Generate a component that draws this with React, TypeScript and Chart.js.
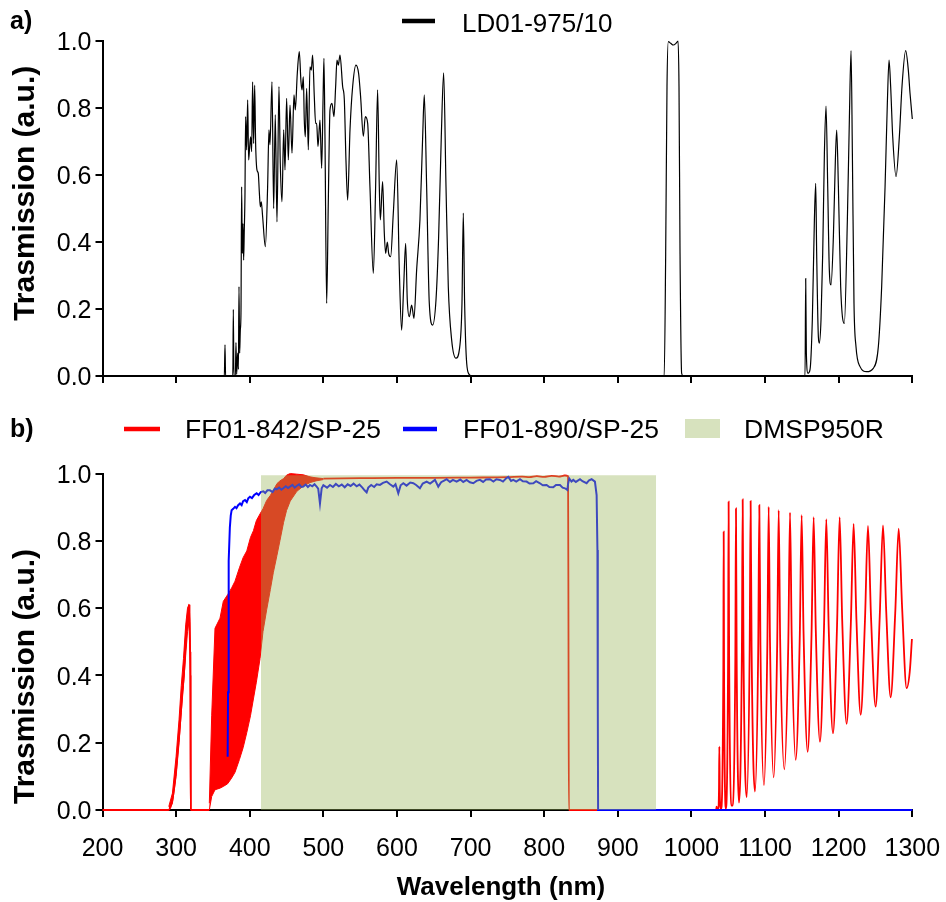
import { useEffect, useRef } from 'react';
import { Chart, registerables } from 'chart.js';

Chart.register(...registerables);

const FONT = '"Liberation Sans", Arial, Helvetica, sans-serif';

// ---------- axis settings ----------
const X_MIN = 200;
const X_MAX = 1300;
const X_STEP = 100;
const Y_MIN = 0;
const Y_MAX = 1;
const Y_STEP = 0.2;

// ---------- text ----------
const panelLabels = ['a)', 'b)'];
const yTitle = 'Trasmission (a.u.)';
const xTitle = 'Wavelength (nm)';
const seriesNames = ['LD01-975/10', 'FF01-842/SP-25', 'FF01-890/SP-25', 'DMSP950R'];

// ---------- panel a: LD01-975/10 (wavelength nm, transmission) ----------
const ld01: [number, number][] = [
  [200, 0], [365.5, 0], [366.4, 0.093], [367.2, 0], [377, 0], [377.7, 0.199], [378.5, 0],
  [380.5, 0], [381.3, 0.1], [382.2, 0.005], [383.6, 0.068], [384.6, 0.02], [385.4, 0.267],
  [386.3, 0.068], [387.2, 0.137], [388.1, 0.187], [389.0, 0.565], [389.9, 0.366], [390.8, 0.455],
  [391.7, 0.346], [392.6, 0.436], [393.5, 0.536], [394.4, 0.774], [395.8, 0.675], [397.2, 0.824],
  [398.5, 0.645], [399.9, 0.685], [401.2, 0.714], [402.6, 0.67], [403.9, 0.878], [405.3, 0.694],
  [406.7, 0.868], [408.0, 0.694], [409.8, 0.615], [411.6, 0.605], [413.0, 0.55], [414.4, 0.505],
  [415.7, 0.52], [417.5, 0.476], [421.2, 0.386], [424.3, 0.565], [426.1, 0.735], [427.5, 0.69],
  [430.2, 0.878], [432.5, 0.5], [434.7, 0.78], [437.0, 0.46], [439.7, 0.864], [441.5, 0.635],
  [443.8, 0.52], [446.1, 0.735], [447.9, 0.615], [450.1, 0.829], [452.4, 0.645], [454.7, 0.809],
  [457.4, 0.665], [460.1, 0.839], [461.9, 0.794], [464.6, 0.903], [467.3, 0.968], [469.6, 0.878],
  [471.0, 0.854], [472.8, 0.893], [474.1, 0.764], [475.5, 0.714], [477.3, 0.859], [479.6, 0.675],
  [481.8, 0.923], [483.6, 0.913], [485.4, 0.958], [487.7, 0.834], [489.5, 0.754], [490.9, 0.754],
  [492.7, 0.685], [495.4, 0.764], [497.7, 0.62], [499.5, 0.814], [500.8, 0.948], [502.2, 0.714],
  [504.5, 0.217], [506.7, 0.516], [509.0, 0.794], [511.7, 0.814], [514.4, 0.774], [516.7, 0.864],
  [518.5, 0.943], [520.3, 0.928], [522.6, 0.958], [526.2, 0.864], [528.5, 0.824], [530.7, 0.645],
  [533.0, 0.525], [536.2, 0.735], [539.8, 0.864], [544.3, 0.928], [547.9, 0.903], [550.6, 0.834],
  [554.3, 0.716], [557.0, 0.774], [560.2, 0.754], [563.3, 0.565], [567.9, 0.306], [571.0, 0.565],
  [573.7, 0.854], [576.0, 0.565], [577.4, 0.466], [580.5, 0.58], [582.8, 0.426], [584.6, 0.366],
  [586.9, 0.4], [588.7, 0.366], [591.4, 0.356], [595.0, 0.485], [599.6, 0.645], [603.2, 0.316],
  [606.3, 0.137], [609.1, 0.267], [611.8, 0.396], [614.0, 0.227], [616.8, 0.177], [619.9, 0.212],
  [623.1, 0.172], [626.7, 0.316], [631.2, 0.466], [634.9, 0.714], [637.1, 0.839], [640.3, 0.565],
  [643.9, 0.217], [648.4, 0.152], [653.0, 0.227], [656.6, 0.416], [660.2, 0.714], [663.4, 0.905],
  [666.6, 0.565], [669.7, 0.267], [674.3, 0.107], [680.1, 0.053], [684.7, 0.078], [688.3, 0.217],
  [690.1, 0.486], [691.9, 0.217], [694.7, 0.038], [698.3, 0.004], [701.4, 0],
  [963, 0], [965, 0.366], [966.8, 0.864], [968.6, 0.998], [971.8, 0.993], [975.4, 0.988],
  [979, 0.993], [981.8, 1.0], [983.1, 0.864], [984.5, 0.366], [986.7, 0.008], [989, 0],
  [1154.3, 0], [1155.2, 0.291], [1156.1, 0.068], [1158.3, 0.008], [1161, 0.018], [1164.2, 0.168],
  [1167, 0.466], [1168.8, 0.575], [1170.1, 0.366], [1172.4, 0.117], [1173.7, 0.098], [1176, 0.168],
  [1178.3, 0.366], [1180.6, 0.665], [1182.8, 0.806], [1185.1, 0.565], [1187.3, 0.316], [1189.6, 0.272],
  [1192.8, 0.416], [1195.5, 0.645], [1197.3, 0.734], [1199.6, 0.565], [1202.7, 0.267], [1207.7, 0.157],
  [1211.8, 0.466], [1214.5, 0.764], [1216.8, 0.971], [1218.6, 0.665], [1220.8, 0.217], [1223.5, 0.088],
  [1229, 0.028], [1238, 0.013], [1247, 0.023], [1253.9, 0.088], [1258.4, 0.267], [1263, 0.565],
  [1266.1, 0.814], [1268.4, 0.943], [1270.6, 0.864], [1273.4, 0.714], [1277.9, 0.595], [1282.4, 0.714],
  [1286, 0.864], [1291, 0.971], [1294.6, 0.913], [1296.9, 0.844], [1300, 0.767],
];

// ---------- panel b: FF01-842/SP-25 (red), main trace ----------
const ff842: [number, number | null][] = [
  [200, 0], [289.4, 0], [294, 0.02], [297, 0.06], [300, 0.12], [302, 0.17], [304.4, 0.23],
  [306.5, 0.29], [308.4, 0.35], [310.5, 0.4], [312.9, 0.5], [315, 0.56], [316.5, 0.59],
  [317.5, 0.61], [318.5, 0.52], [319.2, 0.4], [319.7, 0], [345.1, 0], [345.2, null],
  [500, 0.985], [550, 0.986], [600, 0.987], [650, 0.987], [700, 0.988], [750, 0.989],
  [770, 0.991], [780, 0.989], [790, 0.992], [800, 0.99], [810, 0.993], [820, 0.991],
  [828, 0.994], [832.4, 0.992], [833.0, 0.5], [833.5, 0], [1033.5, 0],
  [1034.2, 0.01], [1035, 0], [1036.5, 0], [1037.4, 0.06], [1037.9, 0.188], [1038.5, 0.05],
  [1039.5, 0.006], [1040.1, 0.003], [1043.3, 0.415], [1043.8, 0.827], [1044.3, 0.42],
  [1046.9, 0.005], [1049.8, 0.46], [1050.5, 0.916], [1051.2, 0.46],
  [1055.1, 0.012], [1059.6, 0.455], [1060.5, 0.896], [1061.4, 0.46],
  [1064.6, 0.022], [1068.5, 0.47], [1069.6, 0.923], [1070.7, 0.48],
  [1075.0, 0.038], [1079.1, 0.48], [1080.4, 0.918], [1081.7, 0.485],
  [1086.3, 0.055], [1090.7, 0.48], [1092.2, 0.906], [1093.7, 0.49],
  [1098.5, 0.074], [1103.1, 0.49], [1104.9, 0.901], [1106.7, 0.5],
  [1111.7, 0.097], [1116.5, 0.495], [1118.5, 0.891], [1120.5, 0.505],
  [1126.2, 0.121], [1131.6, 0.5], [1133.9, 0.884], [1136.2, 0.515],
  [1141.6, 0.149], [1147.1, 0.51], [1149.7, 0.876], [1152.3, 0.525],
  [1157.9, 0.173], [1163.1, 0.52], [1166.0, 0.87], [1168.9, 0.535],
  [1174.6, 0.203], [1180.0, 0.535], [1183.2, 0.864], [1186.4, 0.545],
  [1192.3, 0.228], [1197.8, 0.55], [1201.3, 0.87], [1204.8, 0.563],
  [1210.8, 0.256], [1216.5, 0.553], [1220.3, 0.85], [1224.1, 0.567],
  [1229.9, 0.283], [1235.7, 0.563], [1239.8, 0.844], [1243.9, 0.575],
  [1250.2, 0.307], [1255.8, 0.577], [1260.2, 0.846], [1264.6, 0.59],
  [1270.6, 0.335], [1276.8, 0.585], [1281.5, 0.836], [1286.2, 0.6],
  [1292.3, 0.362], [1296.5, 0.41], [1299.5, 0.508],
];

// UV peak (290-320 nm): dense ripple drawn as its envelope band
const uvWavelength = [290, 295, 300, 304, 307, 310, 313, 315.5, 317.5, 318.5, 319.4, 319.8];
const uvUpper = [0.01, 0.05, 0.16, 0.27, 0.37, 0.45, 0.55, 0.6, 0.61, 0.56, 0.47, 0.0];
const uvLower = [0, 0.02, 0.1, 0.2, 0.29, 0.37, 0.46, 0.53, 0.56, 0.5, 0.4, 0.0];

// dense interference fringes (345-500 nm) drawn as the envelope band they form
const fringeWavelength = [345.1, 348.3, 352.8, 359.6, 364.1, 370, 375.4, 380, 386, 391, 396, 401, 405, 409, 414, 418, 423, 428, 432, 437, 441, 446, 450, 455, 464, 473, 482, 490, 500];
const fringeUpper = [0.02, 0.28, 0.54, 0.57, 0.62, 0.64, 0.66, 0.68, 0.72, 0.75, 0.77, 0.81, 0.83, 0.86, 0.88, 0.895, 0.92, 0.935, 0.95, 0.97, 0.978, 0.985, 0.995, 1.0, 0.998, 0.996, 0.99, 0.987, 0.985];
const fringeLower = [0, 0.04, 0.06, 0.065, 0.07, 0.078, 0.095, 0.112, 0.15, 0.185, 0.23, 0.28, 0.33, 0.38, 0.45, 0.53, 0.595, 0.655, 0.705, 0.757, 0.8, 0.855, 0.89, 0.918, 0.947, 0.963, 0.973, 0.978, 0.982];

// ---------- panel b: FF01-890/SP-25 (blue) ----------
const ff890: [number, number][] = [
  [370.0, 0.158], [370.5, 0.35], [371.0, 0.55], [371.8, 0.74], [373.0, 0.84], [374.2, 0.875],
  [375.4, 0.891], [377.5, 0.895], [380, 0.901], [382, 0.897], [384, 0.905], [386.8, 0.911],
  [389, 0.906], [391, 0.918], [393.6, 0.921], [396, 0.915], [398, 0.926], [400.3, 0.931],
  [403, 0.927], [406, 0.936], [409.4, 0.941], [412, 0.936], [415, 0.945], [418.5, 0.947],
  [421, 0.942], [424, 0.95], [427.5, 0.95], [431, 0.945], [434, 0.955], [436.6, 0.953],
  [440, 0.958], [443, 0.952], [445.6, 0.956], [449, 0.962], [452, 0.957], [454.7, 0.961],
  [458, 0.966], [461, 0.958], [463.7, 0.963], [467, 0.968], [470, 0.96], [472.8, 0.961],
  [476, 0.967], [479, 0.96], [481.8, 0.966], [485, 0.962], [488, 0.968], [490.9, 0.961],
  [493, 0.955], [495.4, 0.911], [497.7, 0.956], [500, 0.965], [505, 0.958], [509, 0.966],
  [513, 0.96], [517, 0.969], [521, 0.962], [525, 0.967], [529, 0.959], [533, 0.968],
  [537, 0.963], [541, 0.97], [545.2, 0.962], [549, 0.967], [553, 0.958], [556, 0.95],
  [558.8, 0.944], [561, 0.958], [565, 0.966], [569, 0.96], [572.4, 0.968], [576.9, 0.966],
  [581, 0.972], [586, 0.976], [590.5, 0.968], [595, 0.961], [598, 0.968], [601.8, 0.941],
  [605, 0.965], [608.6, 0.971], [613, 0.964], [618, 0.973], [622.2, 0.971], [626, 0.966],
  [631.2, 0.956], [635, 0.97], [640.3, 0.976], [645, 0.97], [651.6, 0.981], [656.1, 0.961],
  [660, 0.974], [664, 0.979], [667.5, 0.983], [672, 0.975], [676, 0.981], [681, 0.976],
  [686, 0.982], [690, 0.975], [694.6, 0.981], [699, 0.974], [703.7, 0.971], [708, 0.978],
  [712.7, 0.981], [717, 0.975], [721, 0.982], [726.3, 0.983], [731, 0.976], [735, 0.983],
  [739.9, 0.981], [744, 0.976], [748, 0.985], [751.2, 0.99], [755, 0.978], [758, 0.981],
  [762, 0.976], [767.1, 0.983], [771, 0.977], [776.1, 0.976], [780, 0.97], [785.2, 0.971],
  [789, 0.977], [794.2, 0.971], [798, 0.965], [803.3, 0.966], [807, 0.96], [812.3, 0.959],
  [816, 0.966], [821.4, 0.966], [825, 0.958], [828.2, 0.956], [831.4, 0.951], [832.5, 0.97],
  [834.1, 0.985], [837, 0.976], [839.5, 0.981], [843, 0.975], [848.6, 0.983], [852, 0.977],
  [857.6, 0.971], [861, 0.98], [864.4, 0.983], [868.9, 0.976], [871.2, 0.936], [872.3, 0.773],
  [872.8, 0.3], [873.2, 0], [1300, 0],
];

// ---------- panel b: DMSP950R reflection band ----------
const dmspEdges = [415.3, 952];
const dmspLevel = 0.995;

// ---------- colours ----------
const RED = '#ff0000';
const BLUE = '#0000ff';
const BLACK = '#000000';
const GREEN_OVERLAY = 'rgba(155,182,92,0.4)';

const toXY = (arr: [number, number | null][]) => arr.map(([x, y]) => ({ x, y }));
const zipXY = (xs: number[], ys: number[]) => xs.map((x, i) => ({ x, y: ys[i] }));

function makeScales(showXLabels: boolean, xHeight: number) {
  const grid = {
    display: true,
    drawOnChartArea: false,
    drawTicks: true,
    tickLength: 7,
    color: BLACK,
    lineWidth: 2,
  };
  const border = { display: true, color: BLACK, width: 2 };
  return {
    x: {
      type: 'linear',
      min: X_MIN,
      max: X_MAX,
      grid,
      border,
      ticks: {
        display: showXLabels,
        stepSize: X_STEP,
        autoSkip: false,
        maxRotation: 0,
        color: BLACK,
        padding: 17,
        font: { family: FONT, size: 25 },
        callback: (v: number) => String(v),
      },
      afterFit: (s: any) => {
        s.height = xHeight;
        s.paddingLeft = 0;
        s.paddingRight = 0;
      },
    },
    y: {
      type: 'linear',
      min: Y_MIN,
      max: Y_MAX,
      grid,
      border,
      ticks: {
        stepSize: Y_STEP,
        color: BLACK,
        padding: 4,
        labelOffset: 2.5,
        font: { family: FONT, size: 25 },
        callback: (v: number) => Number(v).toFixed(1),
      },
      afterFit: (s: any) => {
        s.width = 102.5;
        s.paddingTop = 0;
        s.paddingBottom = 0;
      },
    },
  };
}

function drawYTitle(ctx: CanvasRenderingContext2D, cx: number, cy: number) {
  ctx.save();
  ctx.translate(cx, cy);
  ctx.rotate(-Math.PI / 2);
  ctx.font = `bold 30px ${FONT}`;
  ctx.textAlign = 'center';
  ctx.textBaseline = 'alphabetic';
  ctx.fillStyle = BLACK;
  ctx.fillText(yTitle, 0, 0);
  ctx.restore();
}

const topText = {
  id: 'topText',
  afterDraw(chart: any) {
    const ctx: CanvasRenderingContext2D = chart.ctx;
    ctx.save();
    ctx.fillStyle = BLACK;
    ctx.textAlign = 'left';
    ctx.textBaseline = 'alphabetic';
    ctx.font = `bold 25px ${FONT}`;
    ctx.fillText(panelLabels[0], 10, 29);
    ctx.strokeStyle = BLACK;
    ctx.lineWidth = 4.5;
    ctx.beginPath();
    ctx.moveTo(402, 21);
    ctx.lineTo(435, 21);
    ctx.stroke();
    ctx.font = `26px ${FONT}`;
    ctx.fillText(seriesNames[0], 462, 31.7);
    ctx.restore();
    drawYTitle(ctx, 33.5, 193.3);
  },
};

const bottomText = {
  id: 'bottomText',
  afterDraw(chart: any) {
    const ctx: CanvasRenderingContext2D = chart.ctx;
    ctx.save();
    ctx.fillStyle = BLACK;
    ctx.textAlign = 'left';
    ctx.textBaseline = 'alphabetic';
    ctx.font = `bold 25px ${FONT}`;
    ctx.fillText(panelLabels[1], 10, 36.5);
    ctx.lineWidth = 4.5;
    ctx.strokeStyle = RED;
    ctx.beginPath(); ctx.moveTo(124, 29); ctx.lineTo(160, 29); ctx.stroke();
    ctx.strokeStyle = BLUE;
    ctx.beginPath(); ctx.moveTo(403, 29); ctx.lineTo(437, 29); ctx.stroke();
    ctx.fillStyle = GREEN_OVERLAY;
    ctx.fillRect(685, 19, 35, 19);
    ctx.fillStyle = BLACK;
    ctx.font = `26.5px ${FONT}`;
    ctx.fillText(seriesNames[1], 185, 38.3);
    ctx.fillText(seriesNames[2], 463, 38.3);
    ctx.fillText(seriesNames[3], 744, 38.3);
    ctx.font = `bold 26px ${FONT}`;
    ctx.textAlign = 'center';
    ctx.fillText(xTitle, 501, 495);
    ctx.restore();
    drawYTitle(ctx, 33.5, 276.5);
  },
};

export default function App() {
  const topRef = useRef<HTMLCanvasElement>(null);
  const botRef = useRef<HTMLCanvasElement>(null);

  useEffect(() => {
    const common = {
      animation: false,
      responsive: false,
      maintainAspectRatio: false,
      devicePixelRatio: 1,
      events: [],
      plugins: { legend: { display: false }, tooltip: { enabled: false } },
      elements: { point: { radius: 0 } },
    };

    const band = (label: string, xs: number[], ys: number[], fillNext: boolean) => ({
      label,
      data: zipXY(xs, ys),
      borderColor: RED,
      borderWidth: 1,
      backgroundColor: RED,
      pointRadius: 0,
      tension: 0,
      fill: fillNext ? '+1' : false,
      order: 3,
      clip: 4,
    });

    const top = new Chart(topRef.current as HTMLCanvasElement, {
      type: 'line',
      data: {
        datasets: [
          {
            label: seriesNames[0],
            data: toXY(ld01),
            borderColor: BLACK,
            borderWidth: 1.2,
            cubicInterpolationMode: 'monotone',
            pointRadius: 0,
            fill: false,
            clip: 4,
          },
        ],
      },
      options: {
        ...common,
        layout: { padding: { left: 0, top: 41, right: 33.7, bottom: 0 } },
        scales: makeScales(false, 24),
      } as any,
      plugins: [topText],
    } as any);

    const bottom = new Chart(botRef.current as HTMLCanvasElement, {
      type: 'line',
      data: {
        datasets: [
          {
            label: seriesNames[3],
            data: [
              { x: dmspEdges[0], y: 0 },
              { x: dmspEdges[0], y: dmspLevel },
              { x: dmspEdges[1], y: dmspLevel },
              { x: dmspEdges[1], y: 0 },
            ],
            borderColor: 'rgba(0,0,0,0)',
            borderWidth: 0,
            backgroundColor: GREEN_OVERLAY,
            fill: 'origin',
            pointRadius: 0,
            tension: 0,
            order: 0,
            clip: 4,
          },
          {
            label: seriesNames[2],
            data: toXY(ff890),
            borderColor: BLUE,
            borderWidth: 2,
            pointRadius: 0,
            tension: 0,
            fill: false,
            order: 1,
            clip: 4,
          },
          {
            label: seriesNames[1],
            data: toXY(ff842),
            borderColor: RED,
            borderWidth: 1.8,
            pointRadius: 0,
            cubicInterpolationMode: 'monotone',
            spanGaps: false,
            fill: false,
            order: 2,
            clip: 4,
          },
          band(seriesNames[1] + ' fringes upper', fringeWavelength, fringeUpper, true),
          band(seriesNames[1] + ' fringes lower', fringeWavelength, fringeLower, false),
          band(seriesNames[1] + ' UV upper', uvWavelength, uvUpper, true),
          band(seriesNames[1] + ' UV lower', uvWavelength, uvLower, false),
        ],
      },
      options: {
        ...common,
        layout: { padding: { left: 0, top: 73.5, right: 33.7, bottom: 0 } },
        scales: makeScales(true, 92),
      } as any,
      plugins: [bottomText],
    } as any);

    return () => {
      top.destroy();
      bottom.destroy();
    };
  }, []);

  return (
    <div style={{ position: 'absolute', left: 0, top: 0, width: 946, height: 902, background: '#fff' }}>
      <canvas ref={topRef} width={946} height={400} style={{ position: 'absolute', left: 0, top: 0, width: 946, height: 400 }} />
      <canvas ref={botRef} width={946} height={502} style={{ position: 'absolute', left: 0, top: 400, width: 946, height: 502 }} />
    </div>
  );
}
